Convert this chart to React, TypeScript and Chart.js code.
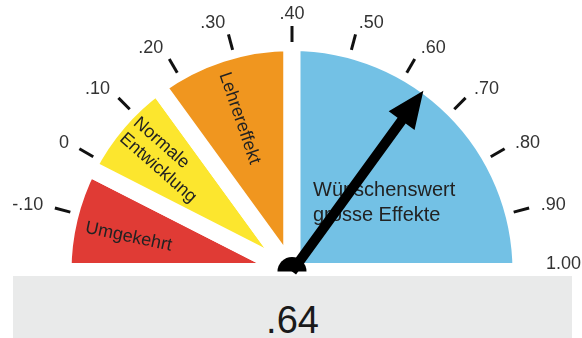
import React, { useEffect, useRef } from "react";
import { Chart, ArcElement, DoughnutController } from "chart.js";

Chart.register(ArcElement, DoughnutController);

// Effect-size zones of the barometer (boundaries on the effect scale)
const zoneBounds = [-0.2, -0.02, 0.16, 0.4, 1.0];
const zoneColors = ["#e03b35", "#fce62e", "#f0961f", "#73c1e5"];
const zoneLines = [
  ["Umgekehrt"],
  ["Normale", "Entwicklung"],
  ["Lehrereffekt"],
  ["Wünschenswert", "grosse Effekte"],
];
// where each rotated zone caption sits, given as a position on the effect scale
const zoneCaptionAt = [-0.12, 0.075, 0.274];

// Scale ticks and their captions
const tickValues = [-0.1, 0, 0.1, 0.2, 0.3, 0.4, 0.5, 0.6, 0.7, 0.8, 0.9];
const scaleValues = [-0.1, 0, 0.1, 0.2, 0.3, 0.4, 0.5, 0.6, 0.7, 0.8, 0.9, 1.0];
const scaleLabels = ["-.10", "0", ".10", ".20", ".30", ".40", ".50", ".60", ".70", ".80", ".90", "1.00"];

// Measured effect shown by the needle
const effectValue = 0.64;
const effectLabel = ".64";

const FONT_FAMILY = '"Helvetica Neue", "Liberation Sans", Arial, sans-serif';

// Convert an effect value to a canvas angle using the drawn arcs
function angleOf(chart: Chart, v: number): number {
  const arcs = chart.getDatasetMeta(0).data as any[];
  for (let i = 0; i < arcs.length; i++) {
    const lo = zoneBounds[i];
    const hi = zoneBounds[i + 1];
    if (v >= lo - 1e-9 && v <= hi + 1e-9) {
      const { startAngle, endAngle } = arcs[i].getProps(["startAngle", "endAngle"], true);
      return startAngle + ((v - lo) / (hi - lo)) * (endAngle - startAngle);
    }
  }
  const first = arcs[0].getProps(["startAngle"], true).startAngle;
  const last = arcs[arcs.length - 1].getProps(["endAngle"], true).endAngle;
  return v < zoneBounds[0] ? first : last;
}

const gaugeDecor = {
  id: "gaugeDecor",
  afterDatasetsDraw(chart: Chart) {
    const ctx = chart.ctx;
    const arc0: any = chart.getDatasetMeta(0).data[0];
    const { x: cx, y: cy, outerRadius } = arc0.getProps(["x", "y", "outerRadius"], true);
    const rim = outerRadius - 8.5; // visible edge after the white separator stroke
    const topAngle = -Math.PI / 2;

    ctx.save();

    // tick marks
    ctx.strokeStyle = "#111";
    ctx.lineWidth = 3;
    ctx.lineCap = "butt";
    for (const v of tickValues) {
      const a = angleOf(chart, v);
      ctx.beginPath();
      ctx.moveTo(cx + Math.cos(a) * (rim + 9), cy + Math.sin(a) * (rim + 9));
      ctx.lineTo(cx + Math.cos(a) * (rim + 25), cy + Math.sin(a) * (rim + 25));
      ctx.stroke();
    }

    // scale captions: left of the top are right-aligned, right of it left-aligned
    ctx.font = `18px ${FONT_FAMILY}`;
    ctx.fillStyle = "#333";
    ctx.textBaseline = "middle";
    scaleValues.forEach((v, i) => {
      const a = angleOf(chart, v);
      const r = rim + 37;
      const side = Math.abs(a - topAngle) < 0.01 ? 0 : a < topAngle ? -1 : 1;
      ctx.textAlign = side === 0 ? "center" : side < 0 ? "right" : "left";
      const w = ctx.measureText(scaleLabels[i]).width;
      let x = cx + Math.cos(a) * r;
      let y = cy + Math.sin(a) * r;
      // keep captions inside the canvas and above the value panel
      if (side > 0 && x + w > chart.width - 1) x = chart.width - 1 - w;
      if (y > cy - 7) y = cy - 7;
      ctx.fillText(scaleLabels[i], x, y);
    });

    // rotated zone captions
    ctx.fillStyle = "#222";
    const radii = [167, 169, 162];
    zoneCaptionAt.forEach((v, i) => {
      const a = angleOf(chart, v);
      const r = radii[i];
      const lines = zoneLines[i];
      const lh = 21;
      const bw = Math.max(...lines.map((l) => ctx.measureText(l).width));
      ctx.save();
      ctx.translate(cx + Math.cos(a) * r, cy + Math.sin(a) * r);
      ctx.rotate(a + Math.PI);
      ctx.textAlign = "left";
      lines.forEach((l, j) => {
        ctx.fillText(l, -bw / 2, (j - (lines.length - 1) / 2) * lh);
      });
      ctx.restore();
    });

    // caption of the large zone, horizontal
    ctx.font = `20px ${FONT_FAMILY}`;
    ctx.textAlign = "left";
    ctx.textBaseline = "alphabetic";
    zoneLines[3].forEach((l, j) => {
      ctx.fillText(l, cx + 21, cy - 76 + j * 25);
    });

    // needle
    const a = angleOf(chart, effectValue);
    const tipR = rim + 3;
    const headLen = 37;
    const headHalf = 16;
    const shaftHalf = 5;
    const ux = Math.cos(a);
    const uy = Math.sin(a);
    const px = -uy;
    const py = ux;
    const baseR = tipR - headLen;
    ctx.fillStyle = "#000";
    ctx.beginPath();
    ctx.moveTo(cx + px * shaftHalf, cy + py * shaftHalf);
    ctx.lineTo(cx + ux * baseR + px * shaftHalf, cy + uy * baseR + py * shaftHalf);
    ctx.lineTo(cx + ux * baseR + px * headHalf, cy + uy * baseR + py * headHalf);
    ctx.lineTo(cx + ux * tipR, cy + uy * tipR);
    ctx.lineTo(cx + ux * baseR - px * headHalf, cy + uy * baseR - py * headHalf);
    ctx.lineTo(cx + ux * baseR - px * shaftHalf, cy + uy * baseR - py * shaftHalf);
    ctx.lineTo(cx - px * shaftHalf, cy - py * shaftHalf);
    ctx.closePath();
    ctx.fill();

    // pivot
    ctx.beginPath();
    ctx.arc(cx, cy, 14.5, Math.PI, Math.PI * 2);
    ctx.closePath();
    ctx.fill();

    ctx.restore();
  },
};

export default function App() {
  const canvasRef = useRef<HTMLCanvasElement | null>(null);

  useEffect(() => {
    const canvas = canvasRef.current;
    if (!canvas) return;
    const spans = zoneBounds.slice(1).map((b, i) => +(b - zoneBounds[i]).toFixed(4));
    const chart = new Chart(canvas, {
      type: "doughnut",
      data: {
        labels: zoneLines.map((l) => l.join(" ")),
        datasets: [
          {
            data: spans,
            backgroundColor: zoneColors,
            borderColor: "#ffffff",
            borderWidth: 17,
            borderAlign: "center",
            hoverBorderWidth: 17,
            hoverOffset: 0,
          } as any,
        ],
      },
      options: {
        responsive: false,
        maintainAspectRatio: false,
        devicePixelRatio: 1,
        animation: false,
        events: [],
        rotation: -90,
        circumference: 180,
        cutout: 0,
        radius: 229,
        layout: { padding: { left: 2, right: 0, top: 0, bottom: 24 } },
        plugins: {
          legend: { display: false },
          tooltip: { enabled: false },
        } as any,
      },
      plugins: [gaugeDecor],
    });
    return () => chart.destroy();
  }, []);

  return (
    <div
      style={{
        position: "fixed",
        left: 0,
        top: 0,
        width: 582,
        height: 338,
        background: "#fff",
        overflow: "hidden",
      }}
    >
      <canvas ref={canvasRef} width={582} height={338} style={{ width: 582, height: 338, display: "block" }} />
      <div
        style={{
          position: "absolute",
          left: 13,
          top: 276,
          width: 559,
          height: 70,
          background: "#e9eaea",
        }}
      >
        <div
          style={{
            position: "absolute",
            left: 0,
            right: 0,
            top: 25,
            textAlign: "center",
            fontFamily: FONT_FAMILY,
            fontSize: 38,
            lineHeight: "38px",
            color: "#1a1a1a",
          }}
        >
          {effectLabel}
        </div>
      </div>
    </div>
  );
}
